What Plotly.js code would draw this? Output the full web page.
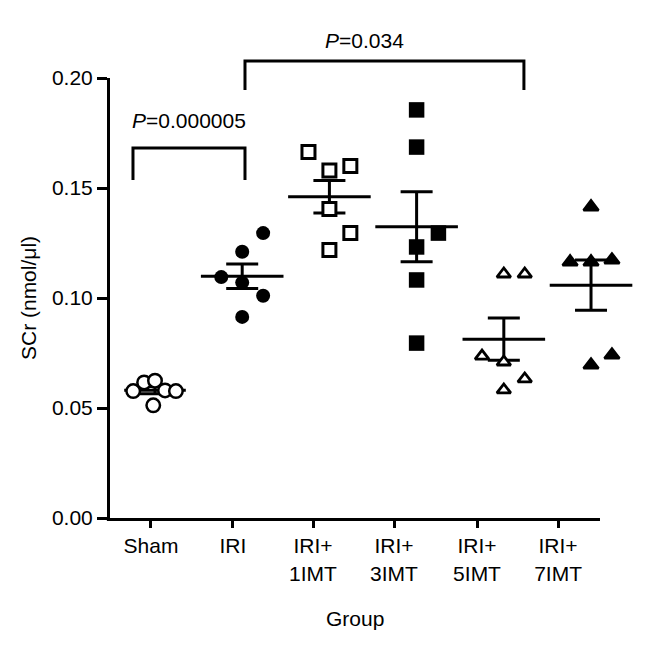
<!DOCTYPE html>
<html>
<head>
<meta charset="utf-8">
<script src="https://cdn.plot.ly/plotly-3.0.1.min.js"></script>
<style>html,body{margin:0;padding:0;background:#fff;}#chart{width:672px;height:650px;}</style>
</head>
<body>
<div id="chart"></div>
<script>
// ---- data ----
const groupLabels = ['Sham', 'IRI', 'IRI+<br>1IMT', 'IRI+<br>3IMT', 'IRI+<br>5IMT', 'IRI+<br>7IMT'];
const sham  = [0.0577, 0.0616, 0.0624, 0.0580, 0.0577, 0.0512];
const iri   = [0.1295, 0.1210, 0.1095, 0.1070, 0.1010, 0.0914];
const imt1  = [0.1664, 0.1580, 0.1600, 0.1405, 0.1295, 0.1218];
const imt3  = [0.1855, 0.1686, 0.1295, 0.1232, 0.1082, 0.0795];
const imt5  = [0.1109, 0.1109, 0.0736, 0.0709, 0.0632, 0.0582];
const imt7  = [0.1414, 0.1164, 0.1164, 0.1173, 0.0695, 0.0741];
const pLabels = ['<i>P</i>=0.000005', '<i>P</i>=0.034'];
const xTitle = 'Group';
const yTitle = 'SCr (nmol/μl)';

// ---- horizontal scatter of the dots within each group (category units) ----
const jitSham = [-0.25, -0.125, 0.0, 0.115, 0.24, -0.02];
const jitIri  = [0.24, 0.0, -0.24, 0.0, 0.24, 0.0];
const jitImt1 = [-0.24, 0.0, 0.24, 0.0, 0.24, 0.0];
const jitImt3 = [0.0, 0.0, 0.25, 0.0, 0.0, 0.0];
const jitImt5 = [0.0, 0.24, -0.25, 0.0, 0.24, 0.0];
const jitImt7 = [0.0, -0.24, 0.0, 0.24, 0.0, 0.24];

const series = [sham, iri, imt1, imt3, imt5, imt7];
const jitters = [jitSham, jitIri, jitImt1, jitImt3, jitImt5, jitImt7];
const tickPos = [-0.046, 0.894, 1.812, 2.741, 3.693, 4.622];
const meanLineLen = [44, 59, 59, 59, 59, 59];

const styles = [
  {symbol: 'circle', size: 13.5, color: '#fff', line: {color: '#000', width: 2.5}},
  {symbol: 'circle', size: 14, color: '#000', line: {color: '#000', width: 0}},
  {symbol: 'square', size: 13, color: '#fff', line: {color: '#000', width: 3}},
  {symbol: 'square', size: 15.5, color: '#000', line: {color: '#000', width: 0}},
  {symbol: 'triangle-up', size: 12, color: '#fff', line: {color: '#000', width: 2.8}},
  {symbol: 'triangle-up', size: 13, color: '#000', line: {color: '#000', width: 2.5}}
];

function mean(a) { return a.reduce((s, v) => s + v, 0) / a.length; }
function sem(a) {
  const m = mean(a);
  const v = a.reduce((s, x) => s + (x - m) * (x - m), 0) / (a.length - 1);
  return Math.sqrt(v) / Math.sqrt(a.length);
}

const traces = [];
// mean + SEM, one per group
series.forEach((vals, i) => {
  traces.push({
    type: 'scatter', mode: 'markers',
    x: [i],
    y: [mean(vals)],
    marker: {symbol: 'line-ew', size: meanLineLen[i], color: '#000', line: {color: '#000', width: 3}},
    error_y: {type: 'data', array: [sem(vals)], visible: true, width: 16, thickness: 3, color: '#000'},
    cliponaxis: false,
    hoverinfo: 'skip', showlegend: false
  });
});
// individual points
series.forEach((vals, i) => {
  traces.push({
    type: 'scatter', mode: 'markers',
    x: vals.map((_, k) => i + jitters[i][k]),
    y: vals,
    marker: styles[i],
    cliponaxis: false,
    showlegend: false
  });
});

const font = {family: 'Liberation Sans, Arial, sans-serif', size: 21, color: '#000'};
const line3 = {color: '#000', width: 3};
// paper coordinates for the significance brackets and the x-axis line
const shapes = [
  {type: 'path', xref: 'paper', yref: 'paper', path: 'M0.0442,0.768 L0.0442,0.841 L0.2596,0.841 L0.2596,0.768', line: line3},
  {type: 'path', xref: 'paper', yref: 'paper', path: 'M0.2596,0.973 L0.2596,1.0386 L0.796,1.0386 L0.796,0.973', line: line3},
  {type: 'line', xref: 'paper', yref: 'paper', ysizemode: 'pixel', yanchor: 0, x0: -0.006, x1: 0.9423, y0: -1.5, y1: -1.5, line: line3}
];

const layout = {
  width: 672, height: 650,
  margin: {l: 110, r: 42, t: 78, b: 132},
  paper_bgcolor: '#fff', plot_bgcolor: '#fff',
  font: font,
  showlegend: false,
  xaxis: {
    range: [-0.516, 5.447],
    tickmode: 'array', tickvals: tickPos, ticktext: groupLabels,
    ticks: 'outside', ticklen: 9, tickwidth: 3, tickcolor: '#000',
    showline: false,
    showgrid: false, zeroline: false,
    tickfont: font
  },
  yaxis: {
    range: [0, 0.2],
    tickmode: 'array', tickvals: [0, 0.05, 0.10, 0.15, 0.20], ticktext: ['0.00', '0.05', '0.10', '0.15', '0.20'],
    ticks: 'outside', ticklen: 10, tickwidth: 3, tickcolor: '#000',
    showline: true, linewidth: 3, linecolor: '#000',
    showgrid: false, zeroline: false,
    tickfont: font,
    title: {text: yTitle, font: font, standoff: 10}
  },
  shapes: shapes,
  annotations: [
    {xref: 'paper', yref: 'paper', x: 0.151, y: 0.9045, text: pLabels[0], showarrow: false, font: font, xanchor: 'center', yanchor: 'middle'},
    {xref: 'paper', yref: 'paper', x: 0.489, y: 1.086, text: pLabels[1], showarrow: false, font: font, xanchor: 'center', yanchor: 'middle'},
    {xref: 'paper', yref: 'paper', x: 0.471, y: -0.2295, text: xTitle, showarrow: false, font: font, xanchor: 'center', yanchor: 'middle'}
  ]
};

Plotly.newPlot('chart', traces, layout, {displayModeBar: false, staticPlot: true});
</script>
</body>
</html>
